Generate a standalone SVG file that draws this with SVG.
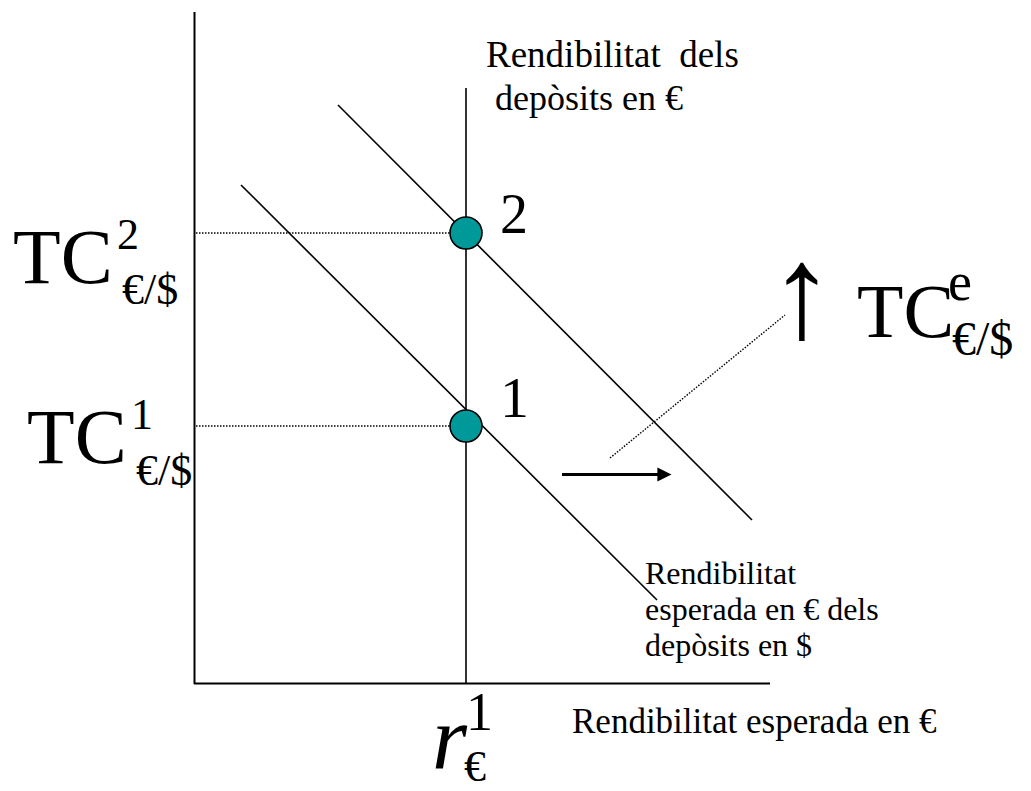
<svg xmlns="http://www.w3.org/2000/svg" width="1031" height="791" viewBox="0 0 1031 791">
<style>
.t{font-family:"Liberation Serif","Times New Roman",serif;fill:#000}
.ln{stroke:#000;stroke-width:1.6;fill:none}
.ax{stroke:#000;stroke-width:2;fill:none}
.dot{stroke:#000;stroke-width:1.4;stroke-dasharray:1.5 1.5;fill:none}
.pt{fill:#009999;stroke:#000;stroke-width:1.6}
</style>
<defs>
<marker id="ah" markerWidth="5" markerHeight="5" refX="0.5" refY="2.5" orient="auto" markerUnits="strokeWidth" viewBox="0 0 5 5">
<path d="M0,0.3 L4.4,2.5 L0,4.7 Z" fill="#000"/>
</marker>
</defs>
<g id="connectors">
<line class="ax" x1="194.5" y1="12" x2="194.5" y2="684"/>
<line class="ax" x1="194" y1="683.5" x2="770" y2="683.5"/>
<line class="ln" x1="466" y1="88" x2="466" y2="683"/>
<line class="ln" x1="241" y1="185" x2="657" y2="600"/>
<line class="ln" x1="338" y1="105" x2="752" y2="520"/>
<line class="dot" x1="196" y1="233" x2="452" y2="233"/>
<line class="dot" x1="196" y1="426" x2="452" y2="426"/>
<line class="dot" x1="610" y1="458" x2="785" y2="315"/>
<line x1="562" y1="474.5" x2="659" y2="474.5" stroke="#000" stroke-width="3.2" marker-end="url(#ah)"/>
</g>
<g id="point2">
<circle class="pt" cx="466" cy="233" r="16"/>
<text class="t" x="500" y="233" font-size="56">2</text>
</g>
<g id="point1">
<circle class="pt" cx="466" cy="426" r="16"/>
<text class="t" x="500" y="417" font-size="58">1</text>
</g>
<g id="label-tc2">
<text class="t" x="13" y="283" font-size="78">TC</text>
<text class="t" x="117" y="249" font-size="44">2</text>
<text class="t" x="122" y="304" font-size="44">€/$</text>
</g>
<g id="label-tc1">
<text class="t" x="27" y="463" font-size="78">TC</text>
<text class="t" x="131" y="429" font-size="44">1</text>
<text class="t" x="136" y="485" font-size="44">€/$</text>
</g>
<g id="label-tce">
<text class="t" x="769" y="337" font-size="132">↑</text>
<text class="t" x="857" y="337" font-size="76">TC</text>
<text class="t" x="948" y="300" font-size="54">e</text>
<text class="t" x="952" y="355" font-size="48">€/$</text>
</g>
<g id="label-r1">
<text class="t" x="432" y="768" font-size="90" font-style="italic">r</text>
<text class="t" x="466" y="730" font-size="54">1</text>
<text class="t" x="464" y="781" font-size="44">€</text>
</g>
<g id="label-euro-deposits">
<text class="t" x="486" y="67" font-size="37" style="white-space:pre">Rendibilitat  dels</text>
<text class="t" x="495" y="110" font-size="36">depòsits en €</text>
</g>
<g id="label-dollar-deposits">
<text class="t" x="645" y="584" font-size="32">Rendibilitat</text>
<text class="t" x="645" y="620" font-size="32">esperada en € dels</text>
<text class="t" x="645" y="656" font-size="32">depòsits en $</text>
</g>
<g id="label-xaxis">
<text class="t" x="572" y="733" font-size="35">Rendibilitat esperada en €</text>
</g>
</svg>
